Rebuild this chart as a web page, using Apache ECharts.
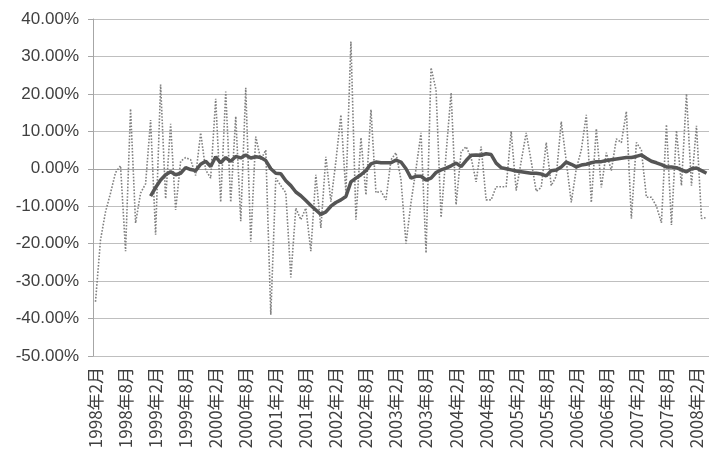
<!DOCTYPE html>
<html>
<head>
<meta charset="utf-8">
<script src="https://cdn.jsdelivr.net/npm/echarts@6/dist/echarts.min.js"></script>
<style>
html,body{margin:0;padding:0;background:#fff;}
#chart{width:709px;height:459px;}
</style>
</head>
<body>
<div id="chart"></div>
<script>
// Category labels: monthly from 1998年2月 (123 months)
var startYear = 1998, startMonth = 2, monthCount = 123;
var categories = [];
for (var k = 0; k < monthCount; k++) {
  var m = startMonth - 1 + k;
  categories.push((startYear + Math.floor(m / 12)) + '年' + (m % 12 + 1) + '月');
}

// Monthly growth rate (%)
var monthlyRate = [
  -35.5, -19, -11.5, -6.5, -1, 0.8, -22, 16, -14.5, -6.5,
  -4, 13, -17.6, 22.5, -8, 12, -11, 2, 3, 2.4,
  -1.8, 9.6, -0.3, -2.5, 18.7, -8.9, 20.6, -8.9, 14, -14,
  21.6, -19.5, 8.6, 2.4, 5, -39, -2.5, -4.5, -6.4, -29,
  -10.5, -13.6, -10.5, -22, -1.6, -15.8, 3.2, -8.8, 2, 14.4,
  -6.4, 34, -13.6, 8.3, -7, 15.8, -6.4, -6, -8.3, 2.4,
  4.3, -3, -20, -9, 0, 9.6, -22.5, 27, 21, -13,
  4, 20.3, -9.6, 4.5, 5.9, 3, -3.5, 5.9, -8.3, -8.3,
  -4.8, -4.8, -4.8, 10, -5.8, 2, 9.6, 2, -6, -5,
  7, -4.5, -2, 12.6, 2, -9, 0, 5, 14.4, -9,
  10.7, -5, 4.3, -0.5, 8, 7, 15.3, -13.3, 7, 5,
  -7.6, -7.6, -10, -14.4, 11.8, -15, 10.2, -4.5, 20, -4.5,
  11.5, -13.3, -13
];

// Moving average (%)
var movingAvg = [
  null, null, null, null, null, null, null, null, null, null,
  null, -7.3, -5, -3, -1.6, -0.8, -1.6, -1.2, 0.3, -0.2,
  -0.5, 1.2, 2, 0.6, 3.2, 1.6, 3, 2, 3.3, 2.9,
  3.7, 2.9, 3.2, 3, 2.2, 0, -1.2, -1.3, -3.2, -4.5,
  -6.2, -7.2, -8.5, -9.8, -11, -12.2, -11.5, -10, -9, -8.3,
  -7.4, -3.5, -2.5, -1.6, -0.5, 1.3, 1.8, 1.6, 1.6, 1.6,
  2.3, 1.8, 0, -2.5, -2, -2, -3, -2.5, -1, -0.3,
  0.2, 0.8, 1.5, 0.6, 2.2, 3.6, 3.7, 3.6, 4, 3.8,
  1.5, 0.3, 0, -0.3, -0.6, -0.8, -1, -1.2, -1.2, -1.4,
  -1.9, -0.5, -0.3, 0.5, 1.8, 1.2, 0.5, 1, 1.2, 1.6,
  1.9, 1.9, 2.2, 2.4, 2.6, 2.8, 3, 3, 3.3, 3.7,
  2.8, 2, 1.6, 1.1, 0.5, 0.5, 0.3, -0.3, -0.8, 0,
  0.2, -0.5, -1.2
];

// Y axis ticks
var yMin = -50, yMax = 40, yStep = 10;

var chart = echarts.init(document.getElementById('chart'), null, {renderer: 'canvas'});
chart.setOption({
  animation: false,
  backgroundColor: '#ffffff',
  grid: {left: 93, top: 19, width: 618, bottom: 103, containLabel: false},
  xAxis: {
    type: 'category',
    data: categories,
    boundaryGap: true,
    axisLine: {show: true, lineStyle: {color: '#a6a6a6', width: 1}},
    axisTick: {show: false},
    axisLabel: {
      interval: 5,
      rotate: 90,
      margin: 11,
      color: '#404040',
      fontSize: 17,
      fontFamily: "'Noto Sans CJK SC', 'Liberation Sans', sans-serif"
    },
    splitLine: {show: false}
  },
  yAxis: {
    type: 'value',
    min: yMin, max: yMax, interval: yStep,
    axisLine: {show: true, lineStyle: {color: '#a6a6a6', width: 1}},
    axisTick: {show: true, length: 5, lineStyle: {color: '#a6a6a6'}},
    axisLabel: {
      margin: 14,
      color: '#404040',
      fontSize: 17,
      fontFamily: "'Liberation Sans', 'Noto Sans', sans-serif",
      formatter: function (v) { return v.toFixed(2) + '%'; }
    },
    splitLine: {show: true, lineStyle: {color: '#bfbfbf', width: 1}}
  },
  series: [
    {
      name: '月度',
      type: 'line',
      data: monthlyRate,
      symbol: 'none',
      smooth: false,
      lineStyle: {color: '#808080', width: 1.6, type: 'dotted'},
      z: 2
    },
    {
      name: '移动平均',
      type: 'line',
      data: movingAvg,
      symbol: 'none',
      connectNulls: false,
      lineStyle: {color: '#555555', width: 3.5},
      z: 3
    }
  ]
});
</script>
</body>
</html>
